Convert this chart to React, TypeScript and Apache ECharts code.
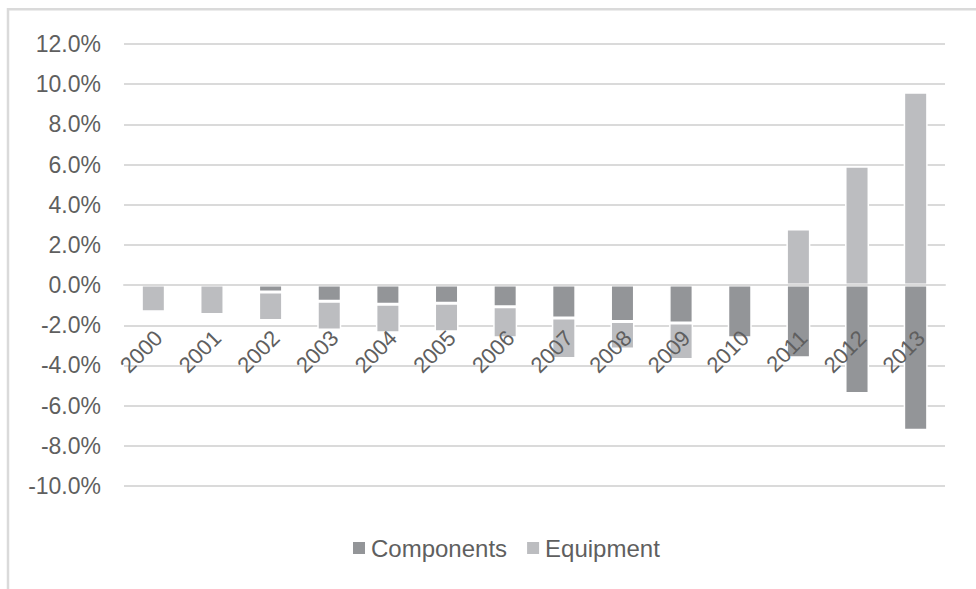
import { useEffect, useRef } from "react";
import * as echarts from "echarts";

// Annual change, in percent, split by segment
const years = ["2000", "2001", "2002", "2003", "2004", "2005", "2006", "2007", "2008", "2009", "2010", "2011", "2012", "2013"];
const components = [0.1, 0, -0.35, -0.8, -0.95, -0.9, -1.08, -1.64, -1.81, -1.89, -2.62, -3.62, -5.39, -7.23];
const equipment = [-1.33, -1.46, -1.41, -1.44, -1.42, -1.42, -1.54, -2.01, -1.37, -1.81, 0, 2.79, 5.92, 9.6];

const yMin = -10;
const yMax = 12;
const yStep = 2;

const FONT = "'Liberation Sans', Arial, Helvetica, sans-serif";
const TEXT = "#5f5f5f";
const RULE = "#dadada";
const DARK = "#939598";
const LIGHT = "#bcbdc0";

const W = 976;
const H = 589;
const GRID = { left: 124, right: 31, top: 44, bottom: 103 };

export default function App() {
  const ref = useRef<HTMLDivElement>(null);

  useEffect(() => {
    if (!ref.current) return;
    const chart = echarts.init(ref.current, undefined, { renderer: "svg" });

    // Lift the category axis from the bottom of the plot up to the zero line
    const plotH = H - GRID.top - GRID.bottom;
    const zeroFromBottom = ((0 - yMin) / (yMax - yMin)) * plotH;

    chart.setOption({
      animation: false,
      backgroundColor: "#ffffff",
      textStyle: { fontFamily: FONT },
      graphic: [
        {
          type: "polyline",
          shape: { points: [[8, H], [8, 9.3], [W, 9.3]] },
          style: { stroke: RULE, lineWidth: 2.5, fill: "none" },
          silent: true,
        },
      ],
      grid: { ...GRID, containLabel: false },
      legend: {
        left: 346,
        top: 531,
        itemWidth: 14,
        itemHeight: 14,
        itemGap: 18,
        icon: "rect",
        textStyle: { color: TEXT, fontSize: 24, fontFamily: FONT },
        data: ["Components", "Equipment"],
      },
      xAxis: {
        type: "category",
        data: years,
        z: 3,
        position: "bottom",
        offset: -zeroFromBottom,
        axisLine: { onZero: false, lineStyle: { color: RULE, width: 2 } },
        axisTick: { show: false },
        axisLabel: {
          interval: 0,
          rotate: 45,
          margin: 44,
          verticalAlign: "top",
          lineHeight: 15,
          color: TEXT,
          fontSize: 22,
          fontFamily: FONT,
        },
      },
      yAxis: {
        type: "value",
        min: yMin,
        max: yMax,
        interval: yStep,
        axisLine: { show: false },
        axisTick: { show: false },
        splitLine: { lineStyle: { color: RULE, width: 2 } },
        axisLabel: {
          margin: 23,
          color: TEXT,
          fontSize: 23,
          fontFamily: FONT,
          formatter: (v: number) => `${v.toFixed(1)}%`,
        },
      },
      series: [
        {
          name: "Components",
          type: "bar",
          stack: "total",
          barWidth: 24,
          data: components,
          itemStyle: { color: DARK, borderColor: "#ffffff", borderWidth: 1.5 },
        },
        {
          name: "Equipment",
          type: "bar",
          stack: "total",
          barWidth: 24,
          data: equipment,
          itemStyle: { color: LIGHT, borderColor: "#ffffff", borderWidth: 1.5 },
        },
      ],
    });
    return () => chart.dispose();
  }, []);

  return (
    <div
      ref={ref}
      style={{ position: "fixed", left: 0, top: 0, width: W, height: H, background: "#ffffff" }}
    />
  );
}
